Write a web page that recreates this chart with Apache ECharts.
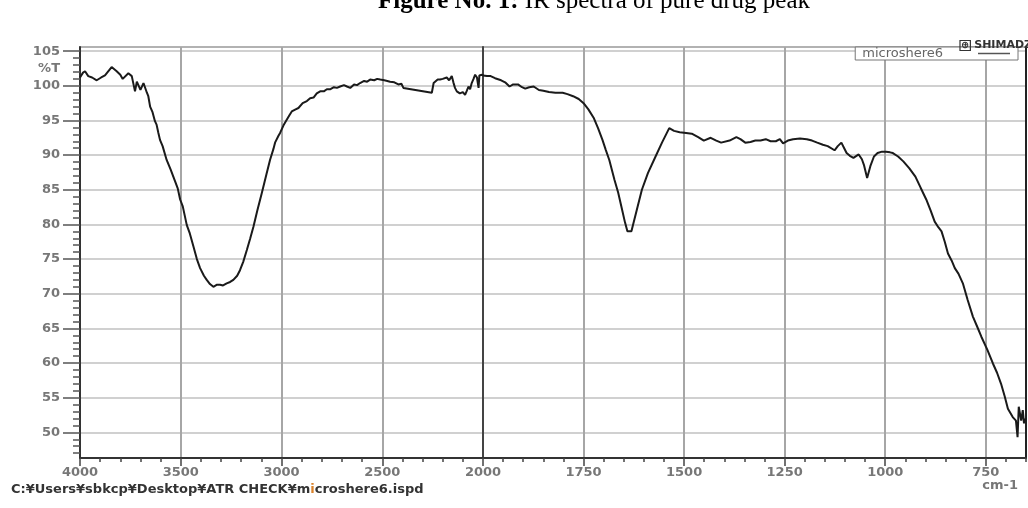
<!DOCTYPE html>
<html>
<head>
<meta charset="utf-8">
<title>IR spectra of pure drug peak</title>
<script src="https://cdn.jsdelivr.net/npm/echarts@6/dist/echarts.min.js"></script>
<style>
  html, body { margin: 0; padding: 0; background: #fff; }
  #chart { width: 1028px; height: 508px; }
</style>
</head>
<body>
<div id="chart"></div>
<script>
// spectrum, high wavenumber first
var wavenumbers = [
  4000, 3985, 3975, 3959, 3940, 3917, 3895, 3876, 3843, 3818, 3800, 3788, 3760, 3743, 3727, 3718,
  3711, 3700, 3694, 3685, 3677, 3668, 3661, 3652, 3640, 3628, 3620, 3611, 3603, 3590, 3570, 3550,
  3528, 3515, 3503, 3490, 3470, 3455, 3437, 3420, 3404, 3385, 3371, 3355, 3338, 3320, 3305, 3290,
  3272, 3255, 3239, 3220, 3206, 3190, 3172, 3155, 3139, 3120, 3098, 3075, 3057, 3040, 3032, 3015,
  3007, 2990, 2974, 2960, 2949, 2930, 2916, 2895, 2874, 2858, 2841, 2825, 2808, 2790, 2775, 2759,
  2740, 2725, 2709, 2690, 2675, 2659, 2640, 2625, 2610, 2590, 2575, 2560, 2540, 2525, 2510, 2490,
  2475, 2461, 2440, 2420, 2405, 2395, 2254, 2245, 2238, 2225, 2213, 2200, 2180, 2168, 2155, 2147,
  2139, 2130, 2115, 2100, 2089, 2080, 2072, 2064, 2056, 2047, 2039, 2030, 2022, 2018, 2014, 2005,
  2000, 1990, 1981, 1970, 1955, 1945, 1934, 1925, 1913, 1903, 1895, 1885, 1874, 1861, 1850, 1836,
  1820, 1802, 1790, 1776, 1762, 1750, 1738, 1725, 1714, 1703, 1695, 1686, 1673, 1664, 1656, 1647,
  1641, 1631, 1618, 1605, 1590, 1571, 1555, 1537, 1525, 1511, 1495, 1481, 1465, 1451, 1434, 1420,
  1408, 1387, 1370, 1360, 1348, 1335, 1323, 1310, 1297, 1285, 1272, 1262, 1254, 1242, 1229, 1212,
  1195, 1182, 1169, 1155, 1143, 1126, 1118, 1109, 1102, 1096, 1088, 1079, 1066, 1058, 1053, 1045,
  1037, 1028, 1019, 1008, 998, 988, 981, 968, 955, 940, 925, 912, 898, 887, 877, 868,
  860, 852, 844, 835, 827, 818, 807, 795, 782, 771, 761, 746, 732, 722, 712, 703,
  695, 683, 675, 671, 668, 662, 658, 655, 652
];
var transmittance = [
  101.2, 101.9, 102.1, 101.4, 101.2, 100.8, 101.2, 101.5, 102.7, 102.1, 101.6, 101.0, 101.8, 101.4, 99.2, 100.6,
  100.7, 99.4, 99.5, 100.4, 100.2, 99.0, 98.5, 97.0, 96.2, 94.9, 94.4, 93.2, 92.2, 91.3, 89.3, 87.9,
  86.2, 85.2, 83.6, 82.6, 79.9, 78.7, 76.8, 75.0, 73.7, 72.6, 72.0, 71.4, 71.0, 71.3, 71.3, 71.2,
  71.5, 71.7, 72.0, 72.6, 73.4, 74.6, 76.3, 78.0, 79.7, 82.0, 84.5, 87.2, 89.3, 90.9, 91.8, 92.8,
  93.2, 94.3, 95.1, 95.8, 96.3, 96.6, 96.8, 97.5, 97.8, 98.2, 98.3, 98.9, 99.2, 99.2, 99.5, 99.5,
  99.8, 99.7, 99.9, 100.1, 99.9, 99.7, 100.2, 100.1, 100.4, 100.7, 100.6, 100.9, 100.8, 101.0, 100.9, 100.8,
  100.7, 100.6, 100.5, 100.2, 100.3, 99.7, 99.0, 100.4, 100.4, 100.9, 100.9, 101.0, 101.2, 100.8, 101.4, 100.5,
  99.7, 99.2, 98.9, 99.1, 98.7, 99.3, 99.9, 99.5, 100.4, 101.0, 101.6, 101.2, 99.7, 101.5, 101.4, 101.6,
  101.5, 101.4, 101.4, 101.1, 100.8, 100.5, 99.9, 100.2, 100.2, 99.8, 99.6, 99.8, 99.9, 99.4, 99.3, 99.1,
  99.0, 99.0, 98.8, 98.5, 98.1, 97.5, 96.6, 95.4, 93.9, 92.2, 90.8, 89.3, 86.4, 84.6, 82.6, 80.3,
  79.0, 79.0, 82.0, 85.0, 87.4, 89.8, 91.8, 93.9, 93.5, 93.3, 93.2, 93.1, 92.6, 92.1, 92.5, 92.1,
  91.8, 92.1, 92.6, 92.3, 91.8, 91.9, 92.1, 92.1, 92.3, 92.0, 92.0, 92.3, 91.7, 92.1, 92.3, 92.4,
  92.3, 92.1, 91.8, 91.5, 91.3, 90.7, 91.3, 91.8, 91.0, 90.3, 89.9, 89.6, 90.1, 89.4, 88.6, 86.7,
  88.4, 89.8, 90.3, 90.5, 90.5, 90.4, 90.3, 89.8, 89.1, 88.1, 86.9, 85.3, 83.6, 82.0, 80.4, 79.6,
  79.0, 77.5, 75.8, 74.8, 73.7, 72.9, 71.5, 69.1, 66.7, 65.2, 63.8, 61.9, 59.9, 58.6, 57.0, 55.2,
  53.4, 52.2, 51.7, 49.3, 53.7, 51.7, 53.2, 51.3, 52.0
];

// tick labels
var yMajorTicks = [50, 55, 60, 65, 70, 75, 80, 85, 90, 95, 100, 105];
var yUnitPos = 102.5;
var xTicksLow = [750, 1000, 1250, 1500, 1750];

var yMinorTicks = [];
for (var t = 47; t <= 105; t++) yMinorTicks.push(t);

// the instrument doubles the scale below 2000 cm-1, so the spectrum sits on two grids
var highPart = [], lowPart = [];
wavenumbers.forEach(function (w, i) {
  if (w >= 2000) highPart.push([w, transmittance[i]]);
  if (w <= 2000) lowPart.push([w, transmittance[i]]);
});

var Y_MIN = 46.3, Y_MAX = 105.6;
var plain = function (v) { return String(v); };
var labelFont = { color: '#777', fontFamily: 'DejaVu Sans', fontWeight: 'bold', fontSize: 13 };
var vGrid = { show: true, lineStyle: { color: '#a6a6a6', width: 2 } };
var hGrid = { show: true, lineStyle: { color: '#c0c0c0', width: 1.5 } };

var myChart = echarts.init(document.getElementById('chart'));

var option = {
  animation: false,
  backgroundColor: '#fff',
  title: [
    {
      text: '{b|Figure No. 1:} IR spectra of pure drug peak',
      left: 373,
      top: -16,
      textStyle: {
        fontFamily: 'Liberation Serif', fontSize: 25, fontWeight: 'normal', color: '#000',
        rich: { b: { fontFamily: 'Liberation Serif', fontSize: 25, fontWeight: 'bold', color: '#000' } }
      }
    },
    {
      text: '{i|⊕} SHIMADZU',
      left: 955,
      top: 35,
      textStyle: {
        fontFamily: 'DejaVu Sans', fontSize: 11, fontWeight: 'bold', color: '#333',
        rich: {
          i: {
            fontFamily: 'DejaVu Sans', fontSize: 10, fontWeight: 'bold', color: '#333',
            borderColor: '#333', borderWidth: 1.2, padding: [0, 1, 0, 1], lineHeight: 11
          }
        }
      }
    },
    {
      text: 'cm-1',
      right: 5,
      top: 474,
      textStyle: labelFont
    },
    {
      text: 'C:¥Users¥sbkcp¥Desktop¥ATR CHECK¥m{o|i}croshere6.ispd',
      left: 6,
      top: 478,
      textStyle: {
        fontFamily: 'DejaVu Sans', fontSize: 13, fontWeight: 'bold', color: '#333',
        rich: { o: { fontFamily: 'DejaVu Sans', fontSize: 13, fontWeight: 'bold', color: '#d9822b' } }
      }
    }
  ],
  legend: {
    data: ['microshere6'],
    right: 10,
    top: 47,
    align: 'right',
    icon: 'rect',
    itemWidth: 32,
    itemHeight: 1.5,
    padding: [0, 8, 0, 7],
    backgroundColor: '#fff',
    borderColor: '#777',
    borderWidth: 1,
    borderRadius: 0,
    itemStyle: { color: '#555' },
    textStyle: { fontFamily: 'DejaVu Sans', fontSize: 13, color: '#666', lineHeight: 12, padding: [0, 30, 0, 0] }
  },
  grid: [
    { left: 80, top: 47, width: 403, height: 411, show: true, borderColor: '#999', borderWidth: 1.5, outerBoundsMode: 'none' },
    { left: 483, top: 47, width: 543, height: 411, show: true, borderColor: '#999', borderWidth: 1.5, outerBoundsMode: 'none' }
  ],
  xAxis: [
    {
      gridIndex: 0, type: 'value', position: 'bottom', inverse: true,
      min: 2000, max: 4000, interval: 500,
      axisLine: { onZero: false, lineStyle: { color: '#333', width: 2 } },
      axisTick: { length: 8, lineStyle: { color: '#444', width: 1.5 } },
      minorTick: { show: true, splitNumber: 5, length: 4, lineStyle: { color: '#444', width: 1.5 } },
      axisLabel: Object.assign({ margin: 8, formatter: plain }, labelFont),
      splitLine: vGrid
    },
    {
      gridIndex: 1, type: 'value', position: 'bottom', inverse: true,
      min: 650, max: 2000,
      axisLine: { onZero: false, lineStyle: { color: '#333', width: 2 } },
      axisTick: { customValues: xTicksLow, length: 8, lineStyle: { color: '#444', width: 1.5 } },
      axisLabel: Object.assign({ margin: 8, customValues: xTicksLow, formatter: plain }, labelFont),
      splitLine: vGrid
    },
    {
      gridIndex: 1, type: 'value', position: 'bottom', inverse: true,
      min: 650, max: 2000, interval: 50,
      axisLine: { show: false, onZero: false },
      axisTick: { length: 4, lineStyle: { color: '#444', width: 1.5 } },
      axisLabel: { show: false },
      splitLine: { show: false }
    }
  ],
  yAxis: [
    {
      gridIndex: 0, type: 'value', position: 'left', min: Y_MIN, max: Y_MAX,
      axisLine: { show: true, onZero: false, lineStyle: { color: '#333', width: 2 } },
      axisTick: { show: true, customValues: yMajorTicks, length: 17, lineStyle: { color: '#555', width: 1.5 } },
      axisLabel: Object.assign({
        margin: 20,
        customValues: yMajorTicks.concat([yUnitPos]),
        formatter: function (v) { return v === yUnitPos ? '%T' : String(v); }
      }, labelFont),
      splitLine: hGrid
    },
    {
      gridIndex: 0, type: 'value', position: 'left', min: Y_MIN, max: Y_MAX,
      axisLine: { show: false },
      axisTick: { show: true, customValues: yMinorTicks, length: 7, lineStyle: { color: '#555', width: 1.5 } },
      axisLabel: { show: false },
      splitLine: { show: false }
    },
    {
      gridIndex: 1, type: 'value', position: 'left', min: Y_MIN, max: Y_MAX,
      axisLine: { show: true, onZero: false, lineStyle: { color: '#444', width: 2 } },
      axisTick: { show: true, customValues: yMajorTicks, length: 0 },
      axisLabel: { show: false },
      splitLine: hGrid
    },
    {
      gridIndex: 1, type: 'value', position: 'right', min: Y_MIN, max: Y_MAX,
      axisLine: { show: true, onZero: false, lineStyle: { color: '#222', width: 2 } },
      axisTick: { show: false },
      axisLabel: { show: false },
      splitLine: { show: false }
    }
  ],
  series: [
    {
      name: 'microshere6', type: 'line', xAxisIndex: 0, yAxisIndex: 0,
      data: highPart, symbol: 'none', z: 5,
      lineStyle: { color: '#1a1a1a', width: 2 }, itemStyle: { color: '#1a1a1a' }
    },
    {
      name: 'microshere6', type: 'line', xAxisIndex: 1, yAxisIndex: 2,
      data: lowPart, symbol: 'none', z: 5,
      lineStyle: { color: '#1a1a1a', width: 2 }, itemStyle: { color: '#1a1a1a' }
    }
  ]
};

myChart.setOption(option);

window.addEventListener('resize', function () {
  myChart.resize();
});
</script>
</body>
</html>
